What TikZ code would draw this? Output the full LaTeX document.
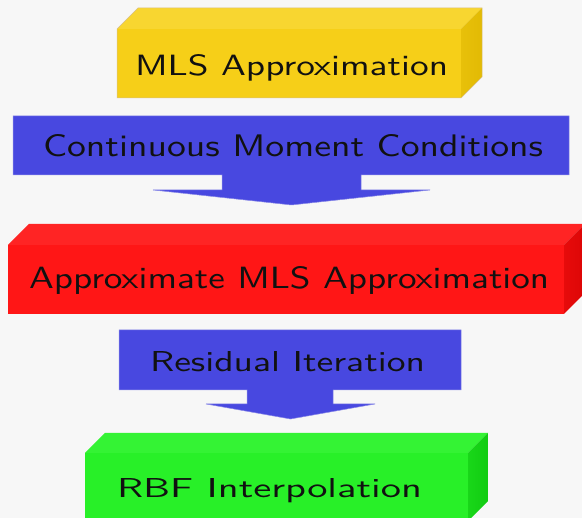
\documentclass[tikz,border=0pt]{standalone}
\usepackage{graphicx}
\definecolor{bg}{HTML}{F7F7F7}
\definecolor{ink}{HTML}{111111}
\definecolor{yfront}{HTML}{F6CF18}
\definecolor{ytop}{HTML}{F8D630}
\definecolor{yside}{HTML}{E2BA04}
\definecolor{yedge}{HTML}{D8C088}
\definecolor{rfront}{HTML}{FF1616}
\definecolor{rtop}{HTML}{FF2424}
\definecolor{rside}{HTML}{DC0606}
\definecolor{gfront}{HTML}{28F028}
\definecolor{gtop}{HTML}{34F334}
\definecolor{gside}{HTML}{12CC12}
\definecolor{bfill}{HTML}{4848E0}
\definecolor{bedge}{HTML}{8A8AE8}
% a box with a front face, a top face and a right side face
% #1,#2 = front top-left, #3,#4 = front bottom-right, #5 = depth, #6/#7/#8 = colours
\newcommand{\cuboid}[8]{%
  \fill[#6] (#1,#2) rectangle (#3,#4);
  \fill[#7] (#1,#2) -- (#3,#2) -- ({#3+#5},{#2-#5}) -- ({#1+#5},{#2-#5}) -- cycle;
  \shade[left color=#8!70!#6, right color=#8] (#3,#2) -- ({#3+#5},{#2-#5}) -- ({#3+#5},{#4-#5}) -- (#3,#4) -- cycle;
}
% a block arrow: box, stem and triangular head
% #1,#2 box top-left, #3,#4 box bottom-right, #5,#6 stem x-range, #7 stem bottom,
% #8,#9 head x-range; the tip lies 15 below the head's base, at its centre
\newcommand{\blockarrow}[9]{%
  \fill[bfill, draw=bedge, line width=0.5pt] (#1,#2) -- (#3,#2) -- (#3,#4) -- (#6,#4) -- (#6,#7)
     -- (#9,#7) -- ({(#8+#9)/2},{#7+15}) -- (#8,#7) -- (#5,#7) -- (#5,#4) -- (#1,#4) -- cycle;
}
\tikzset{
  lbl/.style={anchor=base west, inner sep=0pt, outer sep=0pt, text=ink, font=\sffamily},
}
\begin{document}
\begin{tikzpicture}[x=1pt, y=-1pt]
  \clip (0,0) rectangle (582,518);
  \fill[bg] (0,0) rectangle (582,518);

  % MLS box
  \cuboid{117}{29}{461}{98}{21}{yfront}{ytop}{yside}
  \draw[yedge, line width=0.5pt] (117,98) -- (117,29) -- (138,8) -- (482,8) -- (482,77) -- (461,98) -- cycle;
  \node[lbl] (mls) at (135,76) {\resizebox{313pt}{21pt}{MLS Approximation}};

  % first arrow
  \blockarrow{13}{116}{569}{175}{222}{361}{190}{153}{430}
  \node[lbl] (cmc) at (43,157) {\resizebox{500pt}{22pt}{Continuous Moment Conditions}};

  % approximate MLS box
  \cuboid{8}{245}{564}{314}{21}{rfront}{rtop}{rside}
  \node[lbl] (amls) at (29,289) {\resizebox{520pt}{22pt}{Approximate MLS Approximation}};

  % second arrow
  \blockarrow{119}{330}{461}{390}{247}{333}{404}{206}{375}
  \node[lbl] (ri) at (150,372) {\resizebox{275pt}{20pt}{Residual Iteration}};

  % RBF box
  \cuboid{85}{453}{468}{521}{20}{gfront}{gtop}{gside}
  \node[lbl] (rbf) at (117,498) {\resizebox{305pt}{19pt}{RBF Interpolation}};
\end{tikzpicture}
\end{document}
